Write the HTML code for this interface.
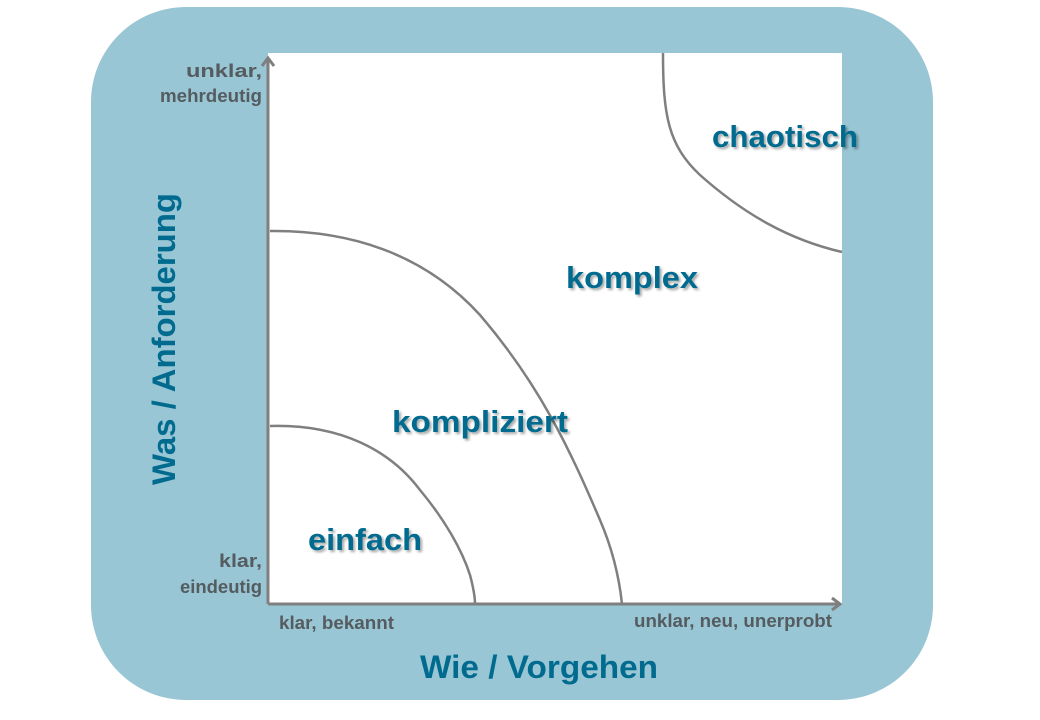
<!DOCTYPE html>
<html><head><meta charset="utf-8"><style>
html,body{margin:0;padding:0;background:#fff;}
svg{display:block;}
text{font-family:"Liberation Sans",sans-serif;font-weight:bold;}
</style></head><body>
<svg width="1040" height="720" viewBox="0 0 1040 720" xmlns="http://www.w3.org/2000/svg">
<defs>
<filter id="sh" x="-10%" y="-30%" width="130%" height="160%">
<feDropShadow dx="2" dy="2" stdDeviation="1.2" flood-color="#000" flood-opacity="0.35"/>
</filter>
</defs>
<rect x="91" y="7" width="842" height="693" rx="95" ry="95" fill="#99c6d5"/>
<rect x="268" y="53" width="574" height="551" fill="#fff"/>
<g fill="none" stroke="#7f7f7f" stroke-width="2.5">
<path d="M663,53 C663,115 668,145 700,175 C745,215 790,240 842,252"/>
<path d="M270,231 C360,230 430,260 480,315 C540,385 570,450 600,520 C615,555 620,585 622,604"/>
<path d="M270,426 C340,424 390,450 420,490 C445,520 462,550 470,575 C474,590 475,598 475,604"/>
</g>
<g stroke="#7f7f7f" stroke-width="3" fill="none">
<line x1="268" y1="604" x2="268" y2="58"/>
<line x1="268" y1="604" x2="840" y2="604"/>
<polyline points="262,66 268,58 274,66"/>
<polyline points="832,598 840,604 832,610"/>
</g>
<g fill="#555c60" font-size="18">
<text x="262" y="77" text-anchor="end" textLength="76" lengthAdjust="spacingAndGlyphs">unklar,</text>
<text x="262" y="102" text-anchor="end" textLength="102" lengthAdjust="spacingAndGlyphs">mehrdeutig</text>
<text x="262" y="567" text-anchor="end" textLength="43" lengthAdjust="spacingAndGlyphs">klar,</text>
<text x="262" y="593" text-anchor="end" textLength="82" lengthAdjust="spacingAndGlyphs">eindeutig</text>
<text x="279" y="629" textLength="115" lengthAdjust="spacingAndGlyphs">klar, bekannt</text>
<text x="832" y="627" text-anchor="end" textLength="198" lengthAdjust="spacingAndGlyphs">unklar, neu, unerprobt</text>
</g>
<g fill="#006b8f" font-size="31" filter="url(#sh)">
<text x="712" y="147" textLength="146" lengthAdjust="spacingAndGlyphs">chaotisch</text>
<text x="566" y="288" textLength="132" lengthAdjust="spacingAndGlyphs">komplex</text>
<text x="392" y="432" textLength="176" lengthAdjust="spacingAndGlyphs">kompliziert</text>
<text x="308" y="550" textLength="114" lengthAdjust="spacingAndGlyphs">einfach</text>
</g>
<g fill="#006b8f" font-size="32">
<text x="420" y="678" textLength="238" lengthAdjust="spacingAndGlyphs">Wie / Vorgehen</text>
<text transform="translate(175,485) rotate(-90)" x="0" y="0" textLength="292" lengthAdjust="spacingAndGlyphs">Was / Anforderung</text>
</g>
</svg>
</body></html>
